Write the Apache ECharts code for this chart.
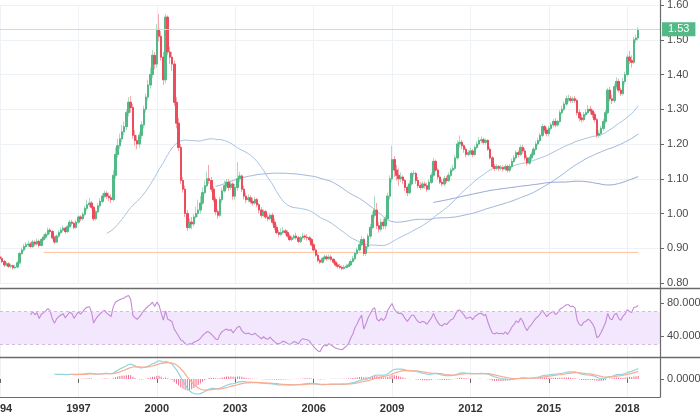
<!DOCTYPE html>
<html>
<head>
<meta charset="utf-8">
<script src="https://cdn.jsdelivr.net/npm/echarts@6/dist/echarts.min.js"></script>
<style>
html,body{margin:0;padding:0;background:#fff;}
#chart{width:700px;height:413px;}
</style>
</head>
<body>
<div id="chart"></div>
<script>
// ---------- DATA (monthly candles, Jan 1994 .. Jun 2018) ----------
const opens = [
0.875,0.870,0.862,0.852,0.855,0.848,0.850,0.844,0.846,0.858,0.885,0.895,
0.905,0.910,0.912,0.905,0.918,0.912,0.920,0.908,0.925,0.932,0.940,0.952,
0.948,0.930,0.918,0.935,0.945,0.952,0.958,0.948,0.962,0.975,0.972,0.960,
0.975,0.990,0.985,0.998,1.015,1.025,1.030,1.018,0.985,1.005,1.022,1.035,
1.050,1.058,1.050,1.045,1.040,1.110,1.170,1.195,1.215,1.235,1.250,1.290,
1.320,1.305,1.225,1.210,1.200,1.225,1.255,1.300,1.335,1.370,1.400,1.455,
1.430,1.530,1.510,1.450,1.385,1.565,1.465,1.450,1.430,1.320,1.260,1.190,
1.095,1.070,1.000,0.960,0.975,0.970,0.990,1.000,1.010,1.030,1.060,1.080,
1.100,1.095,1.070,1.040,1.005,0.995,1.040,1.065,1.080,1.090,1.075,1.085,
1.050,1.075,1.100,1.108,1.070,1.050,1.040,1.045,1.035,1.030,1.040,1.025,
1.010,0.995,1.005,0.990,0.985,0.995,0.975,0.960,0.945,0.940,0.945,0.950,
0.945,0.935,0.925,0.930,0.935,0.930,0.920,0.930,0.935,0.932,0.930,0.925,
0.910,0.895,0.880,0.865,0.860,0.870,0.875,0.870,0.875,0.868,0.860,0.852,
0.848,0.845,0.842,0.845,0.848,0.852,0.862,0.870,0.885,0.895,0.910,0.925,
0.885,0.905,0.935,0.960,0.995,1.010,0.965,0.955,0.975,0.965,0.985,1.050,
1.100,1.155,1.125,1.110,1.100,1.105,1.095,1.075,1.060,1.085,1.115,1.115,
1.095,1.080,1.075,1.085,1.080,1.070,1.090,1.110,1.150,1.125,1.105,1.090,
1.085,1.100,1.095,1.110,1.125,1.130,1.160,1.200,1.205,1.195,1.185,1.170,
1.175,1.180,1.170,1.190,1.200,1.210,1.212,1.205,1.210,1.185,1.160,1.135,
1.130,1.135,1.130,1.132,1.128,1.135,1.125,1.135,1.150,1.160,1.175,1.170,
1.190,1.180,1.160,1.145,1.160,1.170,1.185,1.200,1.210,1.225,1.250,1.240,
1.230,1.245,1.255,1.265,1.255,1.265,1.290,1.300,1.315,1.330,1.330,1.325,
1.330,1.325,1.290,1.275,1.270,1.285,1.290,1.300,1.295,1.285,1.270,1.225,
1.230,1.245,1.265,1.290,1.355,1.330,1.325,1.365,1.380,1.355,1.345,1.380,
1.400,1.450,1.440,1.435,1.500,1.505
];
const closes = [
0.870,0.862,0.852,0.855,0.848,0.850,0.844,0.846,0.858,0.885,0.895,0.905,
0.910,0.912,0.905,0.918,0.912,0.920,0.908,0.925,0.932,0.940,0.952,0.948,
0.930,0.918,0.935,0.945,0.952,0.958,0.948,0.962,0.975,0.972,0.960,0.975,
0.990,0.985,0.998,1.015,1.025,1.030,1.018,0.985,1.005,1.022,1.035,1.050,
1.058,1.050,1.045,1.040,1.110,1.170,1.195,1.215,1.235,1.250,1.290,1.320,
1.305,1.225,1.210,1.200,1.225,1.255,1.300,1.335,1.370,1.400,1.455,1.430,
1.530,1.510,1.450,1.385,1.565,1.465,1.450,1.430,1.320,1.260,1.190,1.095,
1.070,1.000,0.960,0.975,0.970,0.990,1.000,1.010,1.030,1.060,1.080,1.100,
1.095,1.070,1.040,1.005,0.995,1.040,1.065,1.080,1.090,1.075,1.085,1.050,
1.075,1.100,1.108,1.070,1.050,1.040,1.045,1.035,1.030,1.040,1.025,1.010,
0.995,1.005,0.990,0.985,0.995,0.975,0.960,0.945,0.940,0.945,0.950,0.945,
0.935,0.925,0.930,0.935,0.930,0.920,0.930,0.935,0.932,0.930,0.925,0.910,
0.895,0.880,0.865,0.860,0.870,0.875,0.870,0.875,0.868,0.860,0.852,0.848,
0.845,0.842,0.845,0.848,0.852,0.862,0.870,0.885,0.895,0.910,0.925,0.885,
0.905,0.935,0.960,0.995,1.010,0.965,0.955,0.975,0.965,0.985,1.050,1.100,
1.155,1.125,1.110,1.100,1.105,1.095,1.075,1.060,1.085,1.115,1.115,1.095,
1.080,1.075,1.085,1.080,1.070,1.090,1.110,1.150,1.125,1.105,1.090,1.085,
1.100,1.095,1.110,1.125,1.130,1.160,1.200,1.205,1.195,1.185,1.170,1.175,
1.180,1.170,1.190,1.200,1.210,1.212,1.205,1.210,1.185,1.160,1.135,1.130,
1.135,1.130,1.132,1.128,1.135,1.125,1.135,1.150,1.160,1.175,1.170,1.190,
1.180,1.160,1.145,1.160,1.170,1.185,1.200,1.210,1.225,1.250,1.240,1.230,
1.245,1.255,1.265,1.255,1.265,1.290,1.300,1.315,1.330,1.330,1.325,1.330,
1.325,1.290,1.275,1.270,1.285,1.290,1.300,1.295,1.285,1.270,1.225,1.230,
1.245,1.265,1.290,1.355,1.330,1.325,1.365,1.380,1.355,1.345,1.380,1.400,
1.450,1.440,1.435,1.500,1.505,1.530
];
const highs = [
0.882,0.876,0.866,0.861,0.860,0.856,0.853,0.852,0.864,0.890,0.902,0.912,
0.918,0.922,0.918,0.924,0.922,0.928,0.925,0.930,0.940,0.946,0.960,0.958,
0.952,0.936,0.940,0.952,0.960,0.966,0.962,0.968,0.982,0.982,0.975,0.982,
0.996,0.995,1.004,1.022,1.040,1.045,1.036,1.022,1.010,1.030,1.045,1.058,
1.066,1.064,1.060,1.055,1.125,1.190,1.215,1.230,1.255,1.265,1.300,1.335,
1.338,1.315,1.240,1.225,1.235,1.265,1.310,1.345,1.385,1.420,1.470,1.465,
1.545,1.575,1.525,1.465,1.575,1.570,1.480,1.465,1.440,1.335,1.275,1.200,
1.105,1.080,1.010,0.985,0.990,1.000,1.020,1.040,1.050,1.075,1.095,1.120,
1.140,1.105,1.078,1.048,1.012,1.048,1.075,1.095,1.100,1.100,1.095,1.090,
1.085,1.148,1.120,1.112,1.080,1.060,1.055,1.052,1.045,1.048,1.045,1.030,
1.018,1.012,1.010,0.998,1.000,1.002,0.985,0.968,0.952,0.958,0.962,0.955,
0.952,0.942,0.936,0.940,0.945,0.936,0.935,0.945,0.940,0.940,0.935,0.930,
0.915,0.900,0.885,0.870,0.875,0.882,0.880,0.882,0.880,0.872,0.865,0.858,
0.855,0.850,0.852,0.855,0.858,0.868,0.878,0.890,0.902,0.918,0.935,0.930,
0.912,0.942,0.970,1.005,1.050,1.030,0.975,0.985,0.985,0.995,1.060,1.110,
1.195,1.165,1.140,1.130,1.118,1.110,1.100,1.080,1.095,1.120,1.125,1.120,
1.105,1.090,1.092,1.092,1.088,1.098,1.118,1.160,1.155,1.130,1.110,1.098,
1.108,1.108,1.118,1.132,1.140,1.168,1.210,1.225,1.212,1.200,1.192,1.182,
1.190,1.186,1.196,1.208,1.220,1.222,1.218,1.216,1.214,1.192,1.165,1.142,
1.142,1.140,1.140,1.138,1.142,1.140,1.142,1.158,1.168,1.182,1.182,1.198,
1.198,1.188,1.168,1.165,1.178,1.192,1.208,1.218,1.232,1.258,1.255,1.248,
1.252,1.262,1.272,1.275,1.270,1.298,1.310,1.322,1.340,1.342,1.338,1.336,
1.338,1.330,1.300,1.285,1.292,1.300,1.312,1.310,1.300,1.292,1.275,1.240,
1.252,1.272,1.298,1.362,1.365,1.342,1.372,1.392,1.388,1.362,1.390,1.408,
1.458,1.468,1.455,1.508,1.515,1.536
];
const lows = [
0.864,0.857,0.846,0.848,0.843,0.842,0.838,0.840,0.842,0.854,0.880,0.890,
0.898,0.903,0.900,0.900,0.906,0.908,0.902,0.905,0.920,0.926,0.935,0.940,
0.925,0.912,0.915,0.930,0.940,0.946,0.942,0.944,0.958,0.965,0.955,0.956,
0.970,0.978,0.980,0.992,1.008,1.018,1.012,0.978,0.980,1.000,1.015,1.030,
1.044,1.042,1.036,1.030,1.035,1.100,1.160,1.185,1.205,1.225,1.240,1.280,
1.290,1.215,1.195,1.185,1.190,1.215,1.245,1.290,1.325,1.360,1.390,1.415,
1.420,1.495,1.440,1.370,1.375,1.455,1.430,1.410,1.310,1.245,1.180,1.085,
1.060,0.990,0.950,0.955,0.955,0.962,0.985,0.990,1.000,1.025,1.055,1.075,
1.085,1.062,1.032,0.995,0.985,0.990,1.030,1.060,1.070,1.065,1.068,1.040,
1.040,1.065,1.090,1.062,1.040,1.030,1.032,1.028,1.022,1.025,1.018,1.000,
0.988,0.990,0.984,0.978,0.980,0.968,0.952,0.940,0.932,0.935,0.940,0.938,
0.930,0.920,0.920,0.925,0.925,0.915,0.915,0.925,0.925,0.922,0.918,0.905,
0.890,0.875,0.860,0.855,0.856,0.865,0.864,0.866,0.862,0.855,0.847,0.842,
0.840,0.836,0.838,0.842,0.845,0.848,0.858,0.865,0.880,0.890,0.905,0.878,
0.878,0.898,0.928,0.955,0.988,0.955,0.945,0.948,0.955,0.955,0.980,1.040,
1.090,1.105,1.095,1.080,1.090,1.085,1.065,1.050,1.055,1.080,1.105,1.085,
1.072,1.068,1.070,1.072,1.062,1.066,1.085,1.105,1.120,1.098,1.085,1.078,
1.078,1.088,1.090,1.105,1.120,1.125,1.155,1.190,1.185,1.175,1.162,1.165,
1.168,1.162,1.165,1.185,1.195,1.202,1.198,1.198,1.180,1.155,1.130,1.122,
1.124,1.122,1.124,1.120,1.122,1.118,1.118,1.130,1.145,1.155,1.162,1.165,
1.172,1.152,1.138,1.140,1.152,1.165,1.180,1.195,1.205,1.220,1.232,1.222,
1.222,1.238,1.248,1.248,1.250,1.260,1.285,1.295,1.310,1.320,1.318,1.318,
1.318,1.282,1.265,1.262,1.265,1.278,1.285,1.285,1.275,1.262,1.218,1.218,
1.222,1.238,1.258,1.285,1.322,1.315,1.318,1.358,1.348,1.338,1.340,1.372,
1.395,1.430,1.420,1.430,1.490,1.498
];
const firstYear = 1994;
const lastCategory = '2019-04';
const labelEveryYears = 3;
const levelValue = 0.888;      // horizontal support line
const levelStart = '1995-09';
const levelEnd = '2018-06';
const maPeriods = [50, 100, 200];
const rsiPeriod = 14;
const rsiBand = [30, 70];
const macdParams = [12, 26, 9];
const priceTicks = [0.8, 1.6, 0.1];
const rsiLabels = [40, 80];

// ---------- categories ----------
const categories = [];
for (let y = firstYear; ; y++) {
  let done = false;
  for (let m = 1; m <= 12; m++) {
    const c = y + '-' + String(m).padStart(2, '0');
    categories.push(c);
    if (c === lastCategory) { done = true; break; }
  }
  if (done) break;
}
const isLabelCat = (v) => v.endsWith('-01') && (parseInt(v, 10) - firstYear) % labelEveryYears === 0;

// ---------- indicators derived from closes ----------
function sma(n) {
  return closes.map((_, i) => {
    if (i < n - 1) return '-';
    let s = 0;
    for (let k = i - n + 1; k <= i; k++) s += closes[k];
    return s / n;
  });
}
function emaArr(src, n, start) {
  const out = new Array(src.length).fill(null);
  const a = 2 / (n + 1);
  let s = 0;
  for (let k = start; k < start + n; k++) s += src[k];
  let prev = s / n;
  out[start + n - 1] = prev;
  for (let i = start + n; i < src.length; i++) {
    prev = a * src[i] + (1 - a) * prev;
    out[i] = prev;
  }
  return out;
}
function rsi(n) {
  const out = closes.map(() => '-');
  let ag = 0, al = 0;
  for (let i = 1; i <= n; i++) {
    const d = closes[i] - closes[i - 1];
    if (d > 0) ag += d; else al -= d;
  }
  ag /= n; al /= n;
  out[n] = al === 0 ? 100 : 100 - 100 / (1 + ag / al);
  for (let i = n + 1; i < closes.length; i++) {
    const d = closes[i] - closes[i - 1];
    ag = (ag * (n - 1) + Math.max(d, 0)) / n;
    al = (al * (n - 1) + Math.max(-d, 0)) / n;
    out[i] = al === 0 ? 100 : 100 - 100 / (1 + ag / al);
  }
  return out;
}
const [fastN, slowN, sigN] = macdParams;
const emaF = emaArr(closes, fastN, 0);
const emaS = emaArr(closes, slowN, 0);
const macd = closes.map((_, i) => (emaS[i] == null ? null : emaF[i] - emaS[i]));
const macdStart = slowN - 1;
const macdVals = macd.slice(macdStart);
const sigPart = emaArr(macdVals, sigN, 0);
const signal = closes.map((_, i) => (i < macdStart ? null : sigPart[i - macdStart]));
const hist = closes.map((_, i) => (signal[i] == null ? null : macd[i] - signal[i]));
const dash = (arr) => arr.map(v => (v == null ? '-' : v));
let mMax = 0, mMin = 0;
[macd, signal, hist].forEach(a => a.forEach(v => { if (v != null) { mMax = Math.max(mMax, v); mMin = Math.min(mMin, v); } }));

const wickData = opens.map((o, i) => [o, closes[i], lows[i], highs[i]]);
const bodyData = opens.map((o, i) => [o, closes[i], Math.min(o, closes[i]), Math.max(o, closes[i])]);
const lastClose = closes[closes.length - 1];

// ---------- chart ----------
const FONT = '"Liberation Sans", Arial, sans-serif';
const gridColor = '#eef1f6';
const chart = echarts.init(document.getElementById('chart'), null, {renderer: 'canvas'});

function xAxisCfg(gi, showLabels) {
  return {
    type: 'category', gridIndex: gi, data: categories, boundaryGap: false,
    axisLine: {show: false},
    axisTick: {show: showLabels, interval: (i, v) => isLabelCat(v), length: 4, lineStyle: {color: '#666'}},
    axisLabel: {show: showLabels, interval: (i, v) => isLabelCat(v), formatter: v => v.slice(0, 4),
      color: '#333', fontWeight: 'bold', fontSize: 11, fontFamily: FONT, margin: 6, hideOverlap: false},
    splitLine: {show: true, interval: (i, v) => isLabelCat(v), lineStyle: {color: gridColor, width: 1}}
  };
}
const yLabel = {color: '#4a4a4a', fontSize: 11, fontFamily: FONT, margin: 7};
const gridBase = {left: 0, width: 660, containLabel: false, outerBoundsMode: 'none'};

const option = {
  animation: false,
  backgroundColor: '#ffffff',
  grid: [
    Object.assign({top: 5, height: 278}, gridBase),
    Object.assign({top: 289, height: 68}, gridBase),
    Object.assign({top: 358, height: 39}, gridBase)
  ],
  xAxis: [xAxisCfg(0, false), xAxisCfg(1, false), xAxisCfg(2, true)],
  yAxis: [
    {type: 'value', gridIndex: 0, position: 'right', min: priceTicks[0], max: priceTicks[1], interval: priceTicks[2],
      axisLine: {show: false}, axisTick: {show: true, length: 4, lineStyle: {color: '#666'}},
      axisLabel: Object.assign({formatter: v => v.toFixed(2)}, yLabel),
      splitLine: {lineStyle: {color: gridColor}}},
    {type: 'value', gridIndex: 1, position: 'right', min: 15, max: 97,
      axisLine: {show: false},
      axisTick: {show: true, length: 4, customValues: rsiLabels, lineStyle: {color: '#666'}},
      axisLabel: Object.assign({formatter: v => v.toFixed(4), customValues: rsiLabels}, yLabel),
      splitLine: {show: false}},
    {type: 'value', gridIndex: 2, position: 'right', min: mMin * 1.2, max: mMax * 1.15,
      axisLine: {show: false},
      axisTick: {show: true, length: 4, customValues: [0], lineStyle: {color: '#666'}},
      axisLabel: Object.assign({formatter: v => v.toFixed(4), customValues: [0]}, yLabel),
      splitLine: {show: false}}
  ],
  series: [
    {type: 'line', xAxisIndex: 0, yAxisIndex: 0, data: [[levelStart, levelValue], [levelEnd, levelValue]],
      symbol: 'none', lineStyle: {color: '#ffc29c', width: 1}, z: 1},
    {type: 'line', xAxisIndex: 0, yAxisIndex: 0, data: sma(maPeriods[0]), symbol: 'none', showSymbol: false,
      lineStyle: {color: '#a7c3df', width: 1}, z: 2},
    {type: 'line', xAxisIndex: 0, yAxisIndex: 0, data: sma(maPeriods[1]), symbol: 'none', showSymbol: false,
      lineStyle: {color: '#9fb6da', width: 1}, z: 2},
    {type: 'line', xAxisIndex: 0, yAxisIndex: 0, data: sma(maPeriods[2]), symbol: 'none', showSymbol: false,
      lineStyle: {color: '#98a5d4', width: 1}, z: 2},
    {type: 'candlestick', xAxisIndex: 0, yAxisIndex: 0, data: wickData, barWidth: 2, z: 3,
      itemStyle: {color: '#a9dcc3', color0: '#f5a7b0', borderColor: '#a9dcc3', borderColor0: '#f5a7b0', borderWidth: 1}},
    {type: 'candlestick', xAxisIndex: 0, yAxisIndex: 0, data: bodyData, barWidth: 2, z: 4,
      itemStyle: {color: '#53b987', color0: '#eb4d5c', borderColor: '#53b987', borderColor0: '#eb4d5c', borderWidth: 1},
      markLine: {silent: true, symbol: 'none', animation: false,
        lineStyle: {color: '#bfe5d2', width: 1, type: 'solid'},
        label: {position: 'end', formatter: () => lastClose.toFixed(2), backgroundColor: '#53b987', color: '#fff',
          fontSize: 11, fontFamily: FONT, padding: [2, 6, 1, 6], distance: 2},
        data: [{yAxis: lastClose}]}},
    {type: 'line', xAxisIndex: 1, yAxisIndex: 1, data: rsi(rsiPeriod), symbol: 'none', showSymbol: false,
      lineStyle: {color: '#c48ad6', width: 1.1}, z: 3,
      markArea: {silent: true, itemStyle: {color: '#f3e7fd'}, data: [[{yAxis: rsiBand[1]}, {yAxis: rsiBand[0]}]]},
      markLine: {silent: true, symbol: 'none', label: {show: false},
        lineStyle: {color: '#cdbfdc', width: 1, type: [3, 3]},
        data: [{yAxis: rsiBand[0]}, {yAxis: rsiBand[1]}]}},
    {type: 'bar', xAxisIndex: 2, yAxisIndex: 2, data: dash(hist), barWidth: 1,
      itemStyle: {color: '#f36b8e'}, z: 2},
    {type: 'line', xAxisIndex: 2, yAxisIndex: 2, data: dash(macd), symbol: 'none', showSymbol: false,
      lineStyle: {color: '#92d3dc', width: 1.2}, z: 3},
    {type: 'line', xAxisIndex: 2, yAxisIndex: 2, data: dash(signal), symbol: 'none', showSymbol: false,
      lineStyle: {color: '#f8ac90', width: 1.2}, z: 3}
  ],
  graphic: [
    {type: 'line', shape: {x1: 0, y1: 288.5, x2: 700, y2: 288.5}, style: {stroke: '#6b6b6b', lineWidth: 1.5}, z: 100},
    {type: 'line', shape: {x1: 0, y1: 357.5, x2: 700, y2: 357.5}, style: {stroke: '#6b6b6b', lineWidth: 1.5}, z: 100},
    {type: 'line', shape: {x1: 0, y1: 397.5, x2: 660.5, y2: 397.5}, style: {stroke: '#6b6b6b', lineWidth: 1.2}, z: 100},
    {type: 'line', shape: {x1: 660.5, y1: 0, x2: 660.5, y2: 397.5}, style: {stroke: '#6b6b6b', lineWidth: 1.2}, z: 100}
  ]
};
chart.setOption(option);
</script>
</body>
</html>
